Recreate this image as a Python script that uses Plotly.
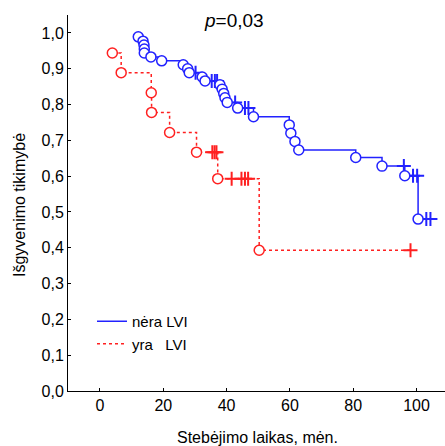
import plotly.graph_objects as go

# ---- data ----
blue_event_t = [12.1, 13.6, 13.9, 14.0, 14.0, 16.1, 19.5, 26.3, 27.7, 28.2, 32.3, 33.2,
                37.9, 38.6, 39.1, 39.5, 40.2, 43.5, 48.5, 59.8, 60.3, 61.6, 62.8, 80.8,
                89.1, 96.3, 100.5]
blue_event_s = [0.989, 0.977, 0.966, 0.955, 0.944, 0.933, 0.922, 0.911, 0.900, 0.889, 0.877, 0.866,
                0.855, 0.843, 0.831, 0.819, 0.806, 0.790, 0.766, 0.743, 0.720, 0.697, 0.673, 0.652,
                0.628, 0.601, 0.480]
blue_cens_t = [30.2, 35.3, 36.3, 37.0, 42.7, 45.8, 46.9, 96.0, 98.9, 100.2, 103.1, 104.4]

red_event_t = [3.9, 6.7, 16.2, 16.3, 22.0, 30.5, 37.2, 50.3]
red_event_s = [0.944, 0.889, 0.833, 0.778, 0.722, 0.667, 0.593, 0.393]
red_cens_t = [35.5, 36.2, 36.8, 41.6, 44.7, 45.8, 46.8, 98.1]

x_ticks = [0, 20, 40, 60, 80, 100]
x_ticklabels = ["0", "20", "40", "60", "80", "100"]
y_ticks = [0.0, 0.1, 0.2, 0.3, 0.4, 0.5, 0.6, 0.7, 0.8, 0.9, 1.0]
y_ticklabels = ["0,0", "0,1", "0,2", "0,3", "0,4", "0,5", "0,6", "0,7", "0,8", "0,9", "1,0"]

series_names = ["nėra LVI", "yra\u00a0\u00a0\u00a0LVI"]
p_text = "<i>p</i>=0,03"
x_title = "Stebėjimo laikas, mėn."
y_title = "Išgyvenimo tikimybė"

BLUE = "#2222ff"
RED = "#ff2020"


def surv_at(t, ev_t, ev_s):
    s = 1.0
    for et, es in zip(ev_t, ev_s):
        if et <= t:
            s = es
    return s


def step_path(ev_t, ev_s, cens_t):
    pts = [(t, s, 0) for t, s in zip(ev_t, ev_s)]
    pts += [(t, surv_at(t, ev_t, ev_s), 1) for t in cens_t]
    pts.sort(key=lambda p: (p[0], -p[1]))
    return [p[0] for p in pts], [p[1] for p in pts]


fig = go.Figure()

groups = [
    (blue_event_t, blue_event_s, blue_cens_t, BLUE, "solid", series_names[0]),
    (red_event_t, red_event_s, red_cens_t, RED, "dot", series_names[1]),
]
for ev_t, ev_s, cens_t, color, dash, name in groups:
    lx, ly = step_path(ev_t, ev_s, cens_t)
    fig.add_trace(go.Scatter(x=lx, y=ly, mode="lines", line_shape="hv",
                             line=dict(color=color, width=1.5, dash=dash),
                             name=name, showlegend=True))
for ev_t, ev_s, cens_t, color, dash, name in groups:
    fig.add_trace(go.Scatter(x=cens_t, y=[surv_at(t, ev_t, ev_s) for t in cens_t], mode="markers",
                             marker=dict(symbol="cross-thin-open", size=10, color=color,
                                         line=dict(width=2, color=color)),
                             showlegend=False, hoverinfo="skip"))
    fig.add_trace(go.Scatter(x=ev_t, y=ev_s, mode="markers",
                             marker=dict(symbol="circle", size=10, color="white",
                                         line=dict(width=1.5, color=color)),
                             showlegend=False, hoverinfo="skip"))

L, R, T, B = 68, 0, 15, 55
W, H = 445, 446
pw, ph = W - L - R, H - T - B

fig.update_layout(
    width=W, height=H,
    margin=dict(l=L, r=R, t=T, b=B),
    paper_bgcolor="white", plot_bgcolor="white",
    font=dict(family="Liberation Sans, Arial, sans-serif", size=16, color="black"),
    xaxis=dict(range=[-10.1, 109], tickvals=x_ticks, ticktext=x_ticklabels,
               showline=True, linecolor="black", linewidth=1, ticks="inside", ticklen=3,
               tickcolor="black", showgrid=False, zeroline=False),
    yaxis=dict(range=[0, 1.05], tickvals=y_ticks, ticktext=y_ticklabels,
               showline=True, linecolor="black", linewidth=1, ticks="inside", ticklen=3,
               tickcolor="black", showgrid=False, zeroline=False),
    legend=dict(x=(92 - L) / pw, y=(H - B - 305) / ph, xanchor="left", yanchor="top",
                bgcolor="rgba(0,0,0,0)", font=dict(size=15), itemwidth=30),
    annotations=[
        dict(text=p_text, x=(234 - L) / pw, y=(H - B - 20) / ph, xref="paper", yref="paper",
             showarrow=False, font=dict(size=19), xanchor="center", yanchor="middle"),
        dict(text=x_title, x=(257 - L) / pw, y=(H - B - 437) / ph, xref="paper", yref="paper",
             showarrow=False, font=dict(size=16), xanchor="center", yanchor="middle"),
        dict(text=y_title, x=(20 - L) / pw, y=(H - B - 205) / ph, xref="paper", yref="paper",
             showarrow=False, font=dict(size=16), textangle=-90, xanchor="center", yanchor="middle"),
    ],
)

fig.write_html("out.html", config={"displayModeBar": False},
               post_script="document.body.style.margin='0';")
